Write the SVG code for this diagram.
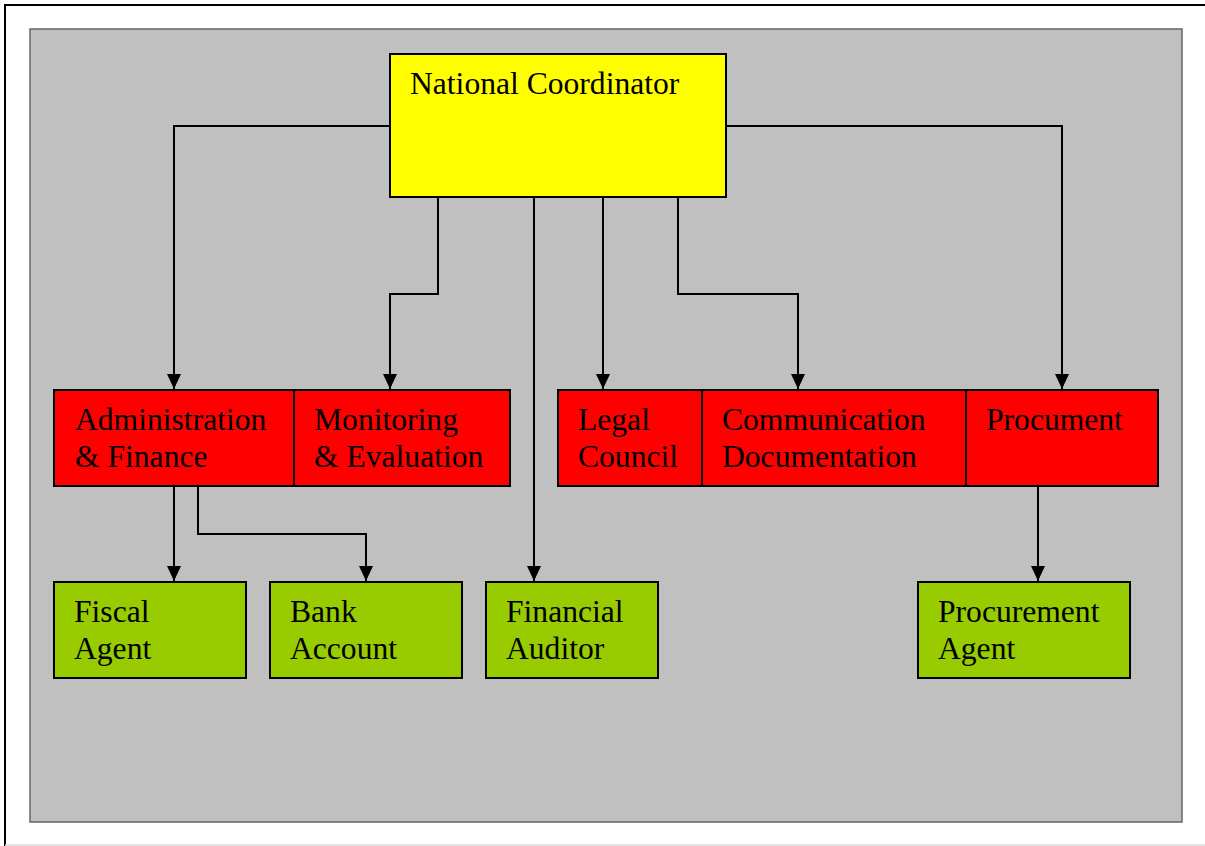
<svg xmlns="http://www.w3.org/2000/svg" width="1205" height="846" viewBox="0 0 1205 846">
<defs>
<style>
.frame{fill:none;stroke:#000;stroke-width:2}
.bg{fill:#C0C0C0;stroke:#666;stroke-width:1.5}
.box{stroke:#000;stroke-width:2}
.y{fill:#FFFF00}
.r{fill:#FF0000}
.g{fill:#99CC00}
.t{font-family:"Liberation Serif","Times New Roman",serif;font-size:31.6px;fill:#000}
.c{fill:none;stroke:#000;stroke-width:2}
</style>
<marker id="ah" viewBox="0 0 15 14" refX="15" refY="7" markerWidth="15" markerHeight="14" markerUnits="userSpaceOnUse" orient="auto">
<path d="M0,0 L15,7 L0,14 z" fill="#000"/>
</marker>
</defs>
<rect x="0" y="0" width="1205" height="846" fill="#fff"/>
<path d="M5,846 V5 H1205" class="frame"/>
<line x1="5" y1="845" x2="1205" y2="845" stroke="#ddd" stroke-width="1.5"/>
<rect x="30" y="29" width="1152" height="793" class="bg"/>

<g id="connectors">
<path class="c" d="M390,126 H174 V389" marker-end="url(#ah)"/>
<path class="c" d="M726,126 H1062 V389" marker-end="url(#ah)"/>
<path class="c" d="M438,197 V294 H390 V389" marker-end="url(#ah)"/>
<path class="c" d="M534,197 V581" marker-end="url(#ah)"/>
<path class="c" d="M603,197 V389" marker-end="url(#ah)"/>
<path class="c" d="M678,197 V294 H798 V389" marker-end="url(#ah)"/>
<path class="c" d="M174,486 V581" marker-end="url(#ah)"/>
<path class="c" d="M198,486 V534 H366 V581" marker-end="url(#ah)"/>
<path class="c" d="M1038,486 V581" marker-end="url(#ah)"/>
</g>

<g id="national-coordinator">
<rect x="390" y="54" width="336" height="143" class="box y"/>
<text x="410" y="94" class="t">National Coordinator</text>
</g>

<g id="admin-finance">
<rect x="54" y="390" width="240" height="96" class="box r"/>
<text x="75" y="430" class="t">Administration</text>
<text x="75" y="467" class="t">&amp; Finance</text>
</g>
<g id="monitoring-evaluation">
<rect x="294" y="390" width="216" height="96" class="box r"/>
<text x="314" y="430" class="t">Monitoring</text>
<text x="314" y="467" class="t">&amp; Evaluation</text>
</g>
<g id="legal-council">
<rect x="558" y="390" width="144" height="96" class="box r"/>
<text x="578" y="430" class="t">Legal</text>
<text x="578" y="467" class="t">Council</text>
</g>
<g id="communication-documentation">
<rect x="702" y="390" width="264" height="96" class="box r"/>
<text x="722" y="430" class="t">Communication</text>
<text x="722" y="467" class="t">Documentation</text>
</g>
<g id="procument">
<rect x="966" y="390" width="192" height="96" class="box r"/>
<text x="986" y="430" class="t">Procument</text>
</g>

<g id="fiscal-agent">
<rect x="54" y="582" width="192" height="96" class="box g"/>
<text x="74" y="622" class="t">Fiscal</text>
<text x="74" y="659" class="t">Agent</text>
</g>
<g id="bank-account">
<rect x="270" y="582" width="192" height="96" class="box g"/>
<text x="290" y="622" class="t">Bank</text>
<text x="290" y="659" class="t">Account</text>
</g>
<g id="financial-auditor">
<rect x="486" y="582" width="172" height="96" class="box g"/>
<text x="506" y="622" class="t">Financial</text>
<text x="506" y="659" class="t">Auditor</text>
</g>
<g id="procurement-agent">
<rect x="918" y="582" width="212" height="96" class="box g"/>
<text x="938" y="622" class="t">Procurement</text>
<text x="938" y="659" class="t">Agent</text>
</g>
</svg>
